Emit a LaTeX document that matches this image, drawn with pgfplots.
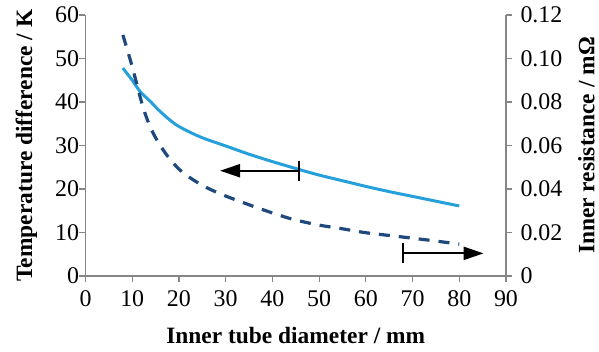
\documentclass[border=0pt]{standalone}
\usepackage{fontspec}
\setmainfont{Liberation Serif}
\usepackage{pgfplots}
\pgfplotsset{compat=1.18}
\usetikzlibrary{arrows.meta}
\definecolor{lightblue}{RGB}{38,160,218}
\definecolor{darkblue}{RGB}{31,73,125}
\definecolor{axgray}{RGB}{134,134,134}

\pgfplotstableread{
x y
8 47.8
10 45.0
11.7 42.4
14 40.0
16 37.8
19.5 34.7
24.5 32.0
30 29.9
35 28.0
40 26.3
46 24.4
50 23.2
55 21.9
60 20.6
65 19.4
70 18.3
75 17.2
80 16.1
}\tempdata

\pgfplotstableread{
x y
8 0.1108
9.9 0.0970
12.4 0.0770
14.5 0.0656
17.4 0.0556
20.6 0.0480
24.9 0.0418
29.5 0.0372
35.2 0.0326
40 0.0290
44.5 0.0260
50 0.0234
55 0.0217
60 0.0199
66 0.0184
73 0.0166
80 0.0147
}\resdata

\begin{document}
\begin{tikzpicture}
\pgfplotsset{
  common/.style={
    scale only axis, width=420.5bp, height=261bp,
    xmin=0, xmax=90,
    tick align=outside, major tick length=6bp,
    every tick/.style={axgray, line width=1.2bp},
    axis line style={axgray, line width=1.5bp},
    tick label style={font=\fontsize{24}{27}\selectfont},
    label style={font=\fontsize{23.5}{27}\selectfont\bfseries},
    /pgf/number format/assume math mode=true,
  }
}
\begin{axis}[common, name=ax,
  axis x line*=bottom, axis y line*=left,
  ymin=0, ymax=60,
  xtick={0,10,...,90}, ytick={0,10,...,60},
  xticklabel style={yshift=-5bp},
  yticklabel style={xshift=3bp},
  xlabel={Inner tube diameter / mm},
  ylabel={Temperature difference / K},
  xlabel style={yshift=-14bp},
  ylabel style={yshift=11bp},
  clip=false,
]
\addplot[lightblue, line width=3bp, smooth] table[x=x,y=y] {\tempdata};
\draw[black, line width=2.2bp, {Bar[width=20bp]}-{Triangle[length=20bp,width=13bp]}] (axis cs:46,24.2) -- (axis cs:28.8,24.2);
\draw[black, line width=2.2bp, {Bar[width=20bp]}-{Triangle[length=20bp,width=13bp]}] (axis cs:67.8,5.2) -- (axis cs:85.2,5.2);
\end{axis}
\begin{axis}[common,
  axis x line=none, axis y line*=right,
  ymin=0, ymax=0.12,
  ytick={0,0.02,0.04,0.06,0.08,0.10,0.12},
  yticklabels={0,0.02,0.04,0.06,0.08,0.10,0.12},
  yticklabel style={xshift=5bp},
  ylabel={Inner resistance / mΩ},
  ylabel style={yshift=-9bp},
]
\addplot[darkblue, line width=3.2bp, smooth, dash pattern=on 11bp off 9bp] table[x=x,y=y] {\resdata};
\end{axis}
\pgfresetboundingbox
\path (ax.south west) ++(-85.5bp,-76bp) rectangle ++(599bp,352bp);
\end{tikzpicture}
\end{document}
